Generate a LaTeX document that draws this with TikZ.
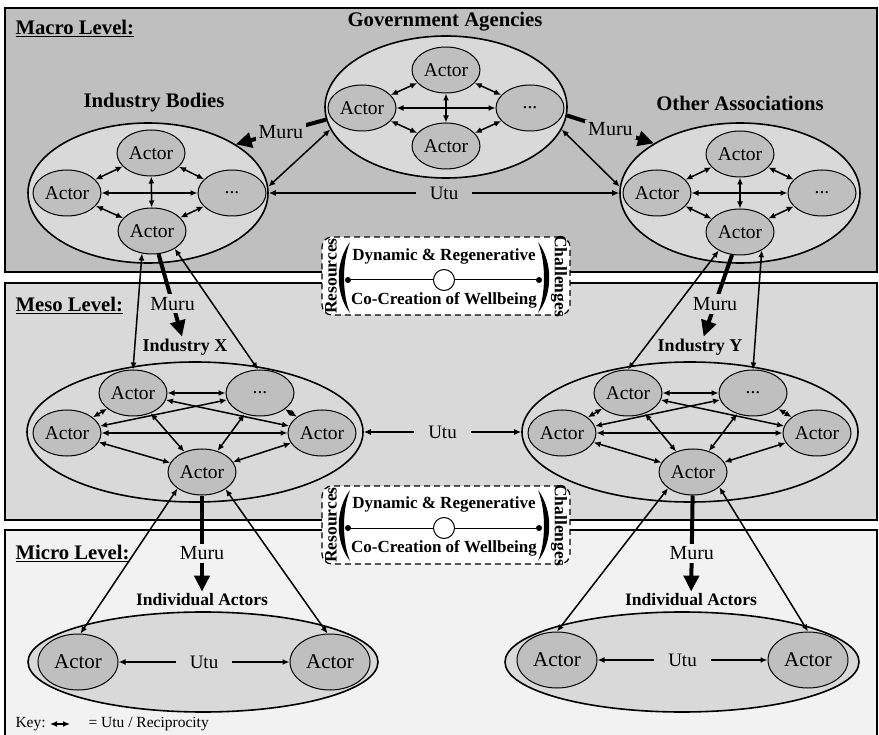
\documentclass[tikz,border=0pt]{standalone}
\usepackage{fontspec}
\setmainfont{Liberation Serif}
\usetikzlibrary{arrows.meta,shapes.geometric}

\definecolor{macrogray}{gray}{0.75}
\definecolor{mesogray}{gray}{0.85}
\definecolor{microgray}{gray}{0.95}
\definecolor{actorgray}{gray}{0.75}
\definecolor{groupgray}{gray}{0.85}

\tikzset{actor/.style={ellipse, draw, line width=1pt, fill=actorgray,
           minimum width=68pt, minimum height=46pt, inner sep=0pt,
           font=\fontsize{19.5}{21}\selectfont},
         bigactor/.style={actor, minimum width=80pt, minimum height=56pt,
           font=\fontsize{21}{23}\selectfont},
         grp/.style={ellipse, draw, line width=1.6pt, fill=groupgray, inner sep=0pt},
         grptitle/.style={inner sep=2pt, font=\fontsize{20.7}{22}\selectfont\bfseries},
         subtitle/.style={inner sep=2pt, font=\fontsize{18}{20}\selectfont\bfseries},
         lvllabel/.style={anchor=west, font=\fontsize{20.7}{22}\selectfont\bfseries},
         utu/.style={{Latex[length=7pt,width=6pt]}-{Latex[length=7pt,width=6pt]}, line width=1.5pt},
         muru/.style={-{Triangle[length=16pt,width=15pt]}, line width=4pt},
         lbl/.style={inner sep=3pt, font=\fontsize{20}{22}\selectfont},
         utulbl/.style={inner xsep=14pt, inner ysep=3pt, font=\fontsize{19}{21}\selectfont},
         resbox/.style={draw, dash pattern=on 6pt off 4pt, rounded corners=10pt, fill=white,
           line width=1.2pt, minimum width=248pt, minimum height=78pt},
         restext/.style={inner sep=1pt, font=\fontsize{17}{19}\selectfont\bfseries},
         sidetext/.style={inner sep=0pt, font=\fontsize{17.5}{19}\selectfont\bfseries},
         enddot/.style={circle, fill, inner sep=0pt, minimum size=6pt},
         ring/.style={circle, draw, fill=white, line width=1pt, minimum size=21pt, inner sep=0pt},
         keytext/.style={anchor=west, font=\fontsize{15.5}{17}\selectfont}}

\begin{document}
\begin{tikzpicture}[x=1pt,y=-1pt]
    \useasboundingbox (0,0) rectangle (879,735);
    % the three levels
    \draw[line width=1.6pt, fill=macrogray] (5,8) rectangle (877,272);
    \draw[line width=1.6pt, fill=mesogray] (5,283) rectangle (877,520);
    \fill[microgray] (5,530) rectangle (877,735);
    \draw[line width=1.6pt] (5,735) |- (877,530) -- (877,735);
    \node[lvllabel] (macrolbl) at (12,28) {\underline{Macro Level:}};
    \node[lvllabel] (mesolbl) at (12,305) {\underline{Meso Level:}};
    \node[lvllabel] (microlbl) at (12,553) {\underline{Micro Level:}};

    % macro level
    \node[grptitle] (tgov) at (445,22) {Government Agencies};
    \node[grp, minimum width=242pt, minimum height=142pt] (gov) at (446,107) {};
    \node[actor] (g1) at (446,70) {Actor};
    \node[actor] (g2) at (362,108) {Actor};
    \node[actor] (g3) at (530,108) {...};
    \node[actor] (g4) at (446,146) {Actor};
    \draw[utu] (g2) -- (g1);
    \draw[utu] (g1) -- (g3);
    \draw[utu] (g2) -- (g4);
    \draw[utu] (g4) -- (g3);
    \draw[utu] (g2) -- (g3);
    \draw[utu] (g1) -- (g4);

    \node[grptitle] (tib) at (154,103) {Industry Bodies};
    \node[grp, minimum width=240pt, minimum height=140pt] (ib) at (148,193) {};
    \node[actor] (ib1) at (151,153) {Actor};
    \node[actor] (ib2) at (67,193) {Actor};
    \node[actor] (ib3) at (232,193) {...};
    \node[actor] (ib4) at (152,231) {Actor};
    \draw[utu] (ib2) -- (ib1);
    \draw[utu] (ib1) -- (ib3);
    \draw[utu] (ib2) -- (ib4);
    \draw[utu] (ib4) -- (ib3);
    \draw[utu] (ib2) -- (ib3);
    \draw[utu] (ib1) -- (ib4);

    \node[grptitle] (toa) at (740,103) {Other Associations};
    \node[grp, minimum width=240pt, minimum height=140pt] (oa) at (740,193) {};
    \node[actor] (oa1) at (740,154) {Actor};
    \node[actor] (oa2) at (657,193) {Actor};
    \node[actor] (oa3) at (822,193) {...};
    \node[actor] (oa4) at (740,232) {Actor};
    \draw[utu] (oa2) -- (oa1);
    \draw[utu] (oa1) -- (oa3);
    \draw[utu] (oa2) -- (oa4);
    \draw[utu] (oa4) -- (oa3);
    \draw[utu] (oa2) -- (oa3);
    \draw[utu] (oa1) -- (oa4);

    \draw[muru] (gov.186) -- node[lbl, fill=macrogray] {Muru} (ib.29);
    \draw[muru] (gov.-4) -- node[lbl, fill=macrogray] {Muru} (oa.150);
    \draw[utu] (gov.191) -- (ib.3);
    \draw[utu] (gov.-11) -- (oa.177);
    \draw[utu] (ib) -- node[utulbl, fill=macrogray] {Utu} (oa);

    % meso level
    \node[subtitle] (tx) at (185,347) {Industry X};
    \node[grp, fill=mesogray, minimum width=336pt, minimum height=140pt] (x) at (195,432) {};
    \node[actor] (x1) at (133,393) {Actor};
    \node[actor] (x2) at (260,393) {...};
    \node[actor] (x3) at (67,433) {Actor};
    \node[actor] (x4) at (322,433) {Actor};
    \node[actor] (x5) at (202,472) {Actor};
    \draw[utu] (x1) -- (x2);
    \draw[utu] (x1) -- (x3);
    \draw[utu] (x1) -- (x4);
    \draw[utu] (x1) -- (x5);
    \draw[utu] (x2) -- (x3);
    \draw[utu] (x2) -- (x4);
    \draw[utu] (x2) -- (x5);
    \draw[utu] (x3) -- (x4);
    \draw[utu] (x3) -- (x5);
    \draw[utu] (x4) -- (x5);

    \node[subtitle] (ty) at (700,347) {Industry Y};
    \node[grp, fill=mesogray, minimum width=336pt, minimum height=140pt] (y) at (690,432) {};
    \node[actor] (y1) at (628,393) {Actor};
    \node[actor] (y2) at (753,393) {...};
    \node[actor] (y3) at (562,433) {Actor};
    \node[actor] (y4) at (817,433) {Actor};
    \node[actor] (y5) at (693,472) {Actor};
    \draw[utu] (y1) -- (y2);
    \draw[utu] (y1) -- (y3);
    \draw[utu] (y1) -- (y4);
    \draw[utu] (y1) -- (y5);
    \draw[utu] (y2) -- (y3);
    \draw[utu] (y2) -- (y4);
    \draw[utu] (y2) -- (y5);
    \draw[utu] (y3) -- (y4);
    \draw[utu] (y3) -- (y5);
    \draw[utu] (y4) -- (y5);

    \draw[utu] (ib4.246) -- (x1.north);
    \draw[utu] (ib4.-38) -- (x2.95);
    \draw[utu] (oa4.221) -- (y1.north);
    \draw[utu] (oa4.-40) -- (y2.north);
    \draw[muru] (ib4) -- node[pos=.6, lbl, fill=mesogray] {Muru} (tx);
    \draw[muru] (oa4) -- node[pos=.6, lbl, fill=mesogray] {Muru} (ty);
    \draw[utu] (x) -- node[utulbl, fill=mesogray] {Utu} (y);

    % micro level
    \node[subtitle, font=\fontsize{17.5}{19}\selectfont\bfseries] (tia1) at (202,600) {Individual Actors};
    \node[grp, minimum width=350pt, minimum height=100pt] (ml) at (203,662) {};
    \node[bigactor] (ml1) at (78,662) {Actor};
    \node[bigactor] (ml2) at (330,662) {Actor};
    \draw[utu] (ml1) -- node[utulbl, fill=groupgray] {Utu} (ml2);

    \node[subtitle, font=\fontsize{17.5}{19}\selectfont\bfseries] (tia2) at (691,600) {Individual Actors};
    \node[grp, minimum width=354pt, minimum height=100pt] (mr) at (682,662) {};
    \node[bigactor] (mr1) at (557,660) {Actor};
    \node[bigactor] (mr2) at (808,660) {Actor};
    \draw[utu] (mr1) -- node[utulbl, fill=groupgray] {Utu} (mr2);

    \draw[utu] (x5.214) -- (ml1.85);
    \draw[utu] (x5.-36) -- (ml2.95);
    \draw[utu] (y5.213) -- (mr1.north);
    \draw[utu] (y5.-30) -- (mr2.north);
    \draw[muru] (x5) -- node[pos=.6, lbl, fill=microgray] {Muru} (tia1);
    \draw[muru] (y5) -- node[pos=.6, lbl, fill=microgray] {Muru} (tia2);

    % resources / challenges boxes
    \node[resbox] (res1) at (446,276) {};
    \node[sidetext, rotate=90] (rs1) at (331,276) {Resources};
    \node[sidetext, rotate=-90] (ch1) at (559,276) {Challenges};
    \node[restext] (dr1) at (444,256) {Dynamic \& Regenerative};
    \node[restext] (cc1) at (444,300) {Co-Creation of Wellbeing};
    \node[enddot] (d1a) at (348,280) {};
    \node[enddot] (d1b) at (539,280) {};
    \node[ring] (r1) at (444,280) {};
    \draw[line width=1pt] (d1a) -- (r1) -- (d1b);
    \fill (350,242) .. controls (335,262) and (335,294) .. (350,313) .. controls (342,294) and (342,262) .. (350,242);
    \fill (538,242) .. controls (553,262) and (553,294) .. (538,313) .. controls (546,294) and (546,262) .. (538,242);

    \node[resbox] (res2) at (446,525) {};
    \node[sidetext, rotate=90] (rs2) at (331,525) {Resources};
    \node[sidetext, rotate=-90] (ch2) at (559,525) {Challenges};
    \node[restext] (dr2) at (444,504) {Dynamic \& Regenerative};
    \node[restext] (cc2) at (444,548) {Co-Creation of Wellbeing};
    \node[enddot] (d2a) at (348,528) {};
    \node[enddot] (d2b) at (539,528) {};
    \node[ring] (r2) at (444,528) {};
    \draw[line width=1pt] (d2a) -- (r2) -- (d2b);
    \fill (350,490) .. controls (335,510) and (335,542) .. (350,561) .. controls (342,542) and (342,510) .. (350,490);
    \fill (538,490) .. controls (553,510) and (553,542) .. (538,561) .. controls (546,542) and (546,510) .. (538,490);

    % key
    \node[keytext] (key) at (12,724) {Key:};
    \coordinate (k1) at (50,724);
    \coordinate (k2) at (70,724);
    \draw[utu] (k1) -- (k2);
    \node[keytext] (keytxt) at (85,724) {= Utu / Reciprocity};
\end{tikzpicture}
\end{document}
